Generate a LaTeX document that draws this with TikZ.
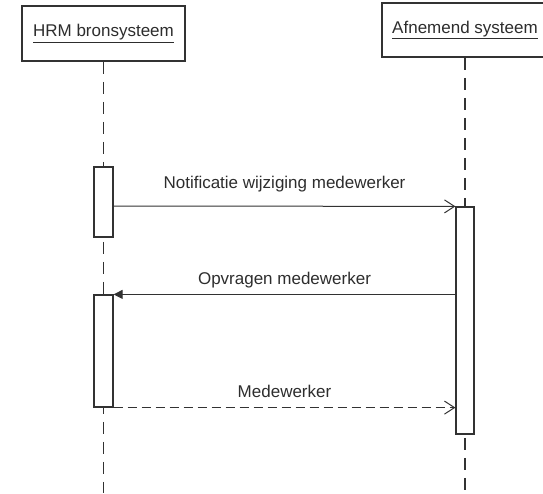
\documentclass[tikz,border=0pt]{standalone}
\usepackage{fontspec}
\setmainfont{Liberation Sans}
\usepackage{tikz}
\usetikzlibrary{arrows.meta, positioning}
\definecolor{SeqLine}{RGB}{50,50,50}
\definecolor{SeqText}{RGB}{45,45,45}

\begin{document}
\begin{tikzpicture}[x=1pt, y=-1pt,
          obj/.style={rectangle, draw=SeqLine, line width=1.5pt, fill=white,
                      inner sep=0pt, font=\fontsize{17}{20}\selectfont,
                      text=SeqText},
          act/.style={rectangle, draw=SeqLine, line width=1.2pt, fill=white,
                      inner sep=0pt, minimum width=19pt},
          life/.style={draw=SeqLine, line width=1.3pt,
                       dash pattern=on 12pt off 8pt},
          msg/.style={draw=SeqLine, line width=1pt,
                      -{Straight Barb[length=10pt, width=13pt]}},
          reply/.style={msg, dash pattern=on 9pt off 5pt},
          call/.style={draw=SeqLine, line width=1pt,
                       -{Triangle[length=9pt, width=9pt]}},
          lbl/.style={anchor=base, inner sep=0pt, text=SeqText,
                      font=\fontsize{17}{20}\selectfont}
        ]
        \useasboundingbox (0,0) rectangle (543,493);

        % objects
        \node[obj, minimum width=163pt, minimum height=55pt]
              (hrm) at (103.5, 33.5) {\underline{HRM bronsysteem}};
        \node[obj, minimum width=166pt, minimum height=54pt]
              (afn) at (465, 30) {\underline{Afnemend systeem}};

        % lifelines
        \coordinate (hrmend) at (103.5, 493);
        \coordinate (afnend) at (465, 493);
        \foreach \a/\b in {hrm/hrmend, afn/afnend}{
          \draw[life] (\a.south) -- (\b);
        }

        % activations
        \node[act, minimum height=70pt]  (act1) at (103.5, 202) {};
        \node[act, minimum height=112pt] (act2) at (103.5, 351) {};
        \node[act, minimum width=18pt, minimum height=227pt]
              (act3) at (465, 320.5) {};

        % messages
        \draw[msg] (act1.east |- 0,206) -- (act3.north west)
              node[lbl, midway, yshift=18pt] {Notificatie wijziging medewerker};
        \draw[call] (act3.west |- act2.north) -- (act2.north east)
              node[lbl, midway, yshift=10pt] {Opvragen medewerker};
        \draw[reply] (act2.south east) -- (act3.west |- act2.south)
              node[lbl, midway, yshift=10pt] {Medewerker};
      \end{tikzpicture}
\end{document}
